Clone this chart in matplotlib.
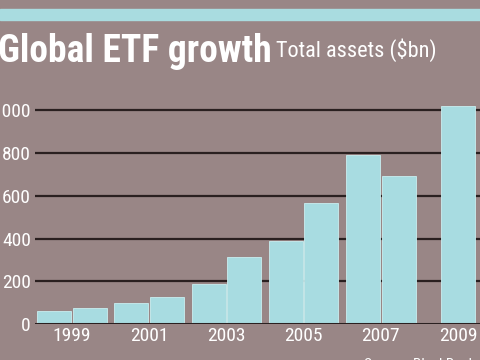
import matplotlib
matplotlib.use("Agg")
import matplotlib.pyplot as plt
from matplotlib import font_manager

# ETF assets, $bn
years = [1999, 2000, 2001, 2002, 2003, 2004, 2005, 2006, 2007, 2008, 2009]
assets = [60, 74, 100, 128, 185, 312, 388, 568, 789, 695, 1019]
year_labels = ["1999", "2001", "2003", "2005", "2007", "2009"]
y_ticks = [0, 200, 400, 600, 800, 1000]

BG = "#998686"
BAR = "#a8dce1"
CYAN = "#a9dce0"
GRID = "#2a2020"

# the original uses a narrow humanist face; take the narrowest one we have
installed = {f.name for f in font_manager.fontManager.ttflist}
for name in ["Liberation Sans Narrow", "DejaVu Sans Condensed", "Roboto Condensed", "Lato"]:
    if name in installed:
        FONT = name
        break
else:
    FONT = "DejaVu Sans"
NARROW = [FONT, "DejaVu Sans"]

fig = plt.figure(figsize=(4.8, 3.6), dpi=100, facecolor=BG)
ax = fig.add_axes([0.073, 0.1, 0.927, 0.629], facecolor=BG)

# bars grouped in pairs of years, the last year on its own
w = 0.44
xs = []
for i, yr in enumerate(years):
    pair = i // 2
    if i == len(years) - 1 and len(years) % 2 == 1:
        xs.append(pair)
    else:
        xs.append(pair + (-0.23 if i % 2 == 0 else 0.23))

ax.bar(xs, assets, width=w, color=BAR, edgecolor="#c9eef0", linewidth=0.6, zorder=3)

for v in y_ticks[1:]:
    ax.axhline(v, color=GRID, lw=1.6, zorder=1)
ax.axhline(0, color=GRID, lw=2.2, zorder=4)

ax.set_xlim(-0.479, 5.285)
ax.set_ylim(0, 1060)
ax.set_yticks(y_ticks)
ax.set_yticklabels([str(v) for v in y_ticks])
ax.set_xticks(range(len(year_labels)))
ax.set_xticklabels(year_labels)
ax.tick_params(length=0, colors="white", labelsize=14)
ax.tick_params(axis="y", pad=3)
ax.tick_params(axis="x", pad=2)
for lab in ax.get_xticklabels() + ax.get_yticklabels():
    lab.set_family(NARROW)
for s in ax.spines.values():
    s.set_visible(False)

# cyan stripe across the top
fig.patches.append(plt.Rectangle((0, 1 - 20 / 360), 1, 11 / 360, transform=fig.transFigure,
                                 color=CYAN, zorder=0))

fig.text(-0.005, 1 - 62 / 360, "Global ETF growth", color="white", fontsize=27,
         fontweight="bold", family=NARROW, va="baseline", ha="left")
fig.text(276 / 480, 1 - 57 / 360, "Total assets ($bn)", color="white", fontsize=16,
         family=NARROW, va="baseline", ha="left")
fig.text(0.99, 0.006, "Source: BlackRock", color="white", fontsize=11,
         family=NARROW, va="top", ha="right")

fig.savefig("out.png", dpi=100, facecolor=BG)
